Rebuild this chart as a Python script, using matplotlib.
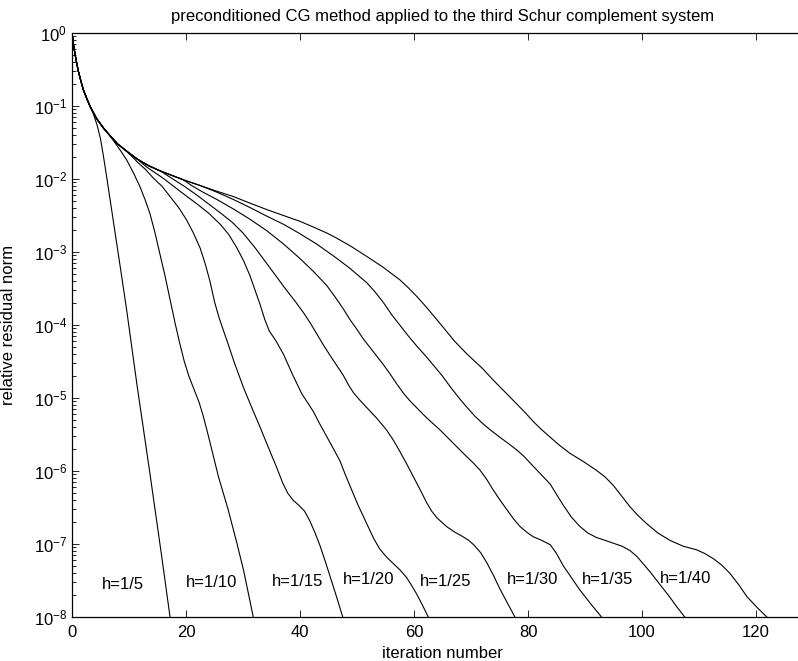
import matplotlib.pyplot as plt
import numpy as np

plt.rcParams['font.family'] = ['Liberation Sans', 'DejaVu Sans']
plt.rcParams['mathtext.fontset'] = 'custom'
plt.rcParams['mathtext.rm'] = 'Liberation Sans'
plt.rcParams['mathtext.it'] = 'Liberation Sans:italic'

# shared start of all residual curves (iteration, log10 residual)
env_it = [0, 0.3, 0.6, 1.1, 1.6, 2.0, 2.6, 3.2, 4.3, 5.5, 6.7, 8.0, 9.6, 11.5, 13.5, 15.5, 17.5, 19.5, 22.5, 25.5, 28.3]
env_lr = [0, -0.18, -0.32, -0.52, -0.67, -0.78, -0.9, -1.01, -1.17, -1.3, -1.41, -1.52, -1.62, -1.73, -1.82, -1.89, -1.95, -2.01, -2.09, -2.17, -2.24]

labels = ["h=1/5", "h=1/10", "h=1/15", "h=1/20", "h=1/25", "h=1/30", "h=1/35", "h=1/40"]
# iteration where each curve leaves the common start
leave_at = [3.2, 6.7, 9.6, 11.5, 15.5, 19.5, 22.5, 28.3]

it_5 = [3.8, 4.4, 5.0, 5.5, 6.1, 7.2, 8.4, 9.6, 11.4, 13.7, 15.7, 17.2]
lr_5 = [-1.12, -1.26, -1.45, -1.68, -1.98, -2.55, -3.17, -3.8, -4.82, -6.05, -7.15, -8.0]

it_10 = [7.5, 8.5, 9.6, 10.8, 11.9, 12.9, 13.7, 14.6, 15.4, 16.3, 17.2, 18.1, 18.9, 19.7, 20.5, 21.4, 22.3,
         23.0, 23.7, 24.5, 25.7, 27.4, 28.9, 30.1, 30.9, 31.8]
lr_10 = [-1.50, -1.61, -1.74, -1.92, -2.10, -2.3, -2.48, -2.75, -3.02, -3.32, -3.65, -3.98, -4.25, -4.5, -4.7, -4.88, -5.06,
         -5.24, -5.45, -5.7, -6.08, -6.53, -6.98, -7.36, -7.66, -8.0]

it_15 = [10.5, 11.5, 12.9, 14.3, 15.8, 17.2, 18.7, 20.1, 21.3, 22.5, 23.4, 24.2, 25.0, 25.8, 26.5, 27.3, 28.5, 30.1,
         31.8, 33.0, 34.2, 35.9, 37.0, 37.9, 38.8, 39.8, 40.8, 41.7, 42.6, 43.5, 44.4, 45.3, 46.4, 47.5]
lr_15 = [-1.69, -1.77, -1.87, -1.99, -2.1, -2.24, -2.39, -2.56, -2.74, -2.95, -3.17, -3.4, -3.68, -3.9, -4.06, -4.24, -4.52, -4.86,
         -5.18, -5.4, -5.63, -5.95, -6.17, -6.31, -6.4, -6.47, -6.55, -6.68, -6.84, -7.02, -7.23, -7.45, -7.72, -8.0]

it_20 = [13.0, 14.5, 16.0, 17.5, 19.5, 21.9, 24.0, 26.0, 27.5, 28.9, 30.1, 31.2, 32.1, 33.0, 33.8, 34.6, 35.8, 37.1,
         38.7, 40.3, 41.3, 42.3, 43.5, 44.7, 45.9, 47.0, 47.9, 48.8, 50.2, 51.7, 52.9, 54.0, 55.2, 56.4, 57.6, 58.7,
         59.6, 60.5, 61.5, 62.5]
lr_20 = [-1.83, -1.91, -1.99, -2.08, -2.2, -2.34, -2.47, -2.62, -2.76, -2.94, -3.12, -3.32, -3.52, -3.72, -3.92, -4.08, -4.22, -4.4,
         -4.68, -4.94, -5.06, -5.18, -5.36, -5.53, -5.7, -5.86, -6.04, -6.21, -6.47, -6.72, -6.92, -7.07, -7.18, -7.27, -7.36, -7.46,
         -7.57, -7.69, -7.84, -8.0]

it_25 = [17.5, 19.7, 21.9, 24.1, 26.3, 28.2, 30.0, 32.0, 34.0, 35.8, 37.5, 39.1, 40.6, 41.7, 42.7, 44.0, 45.3, 46.5,
         47.6, 48.5, 49.4, 50.5, 51.7, 53.5, 55.2, 56.4, 57.5, 58.7, 59.9, 61.1, 62.2, 63.1, 64.0, 65.7, 67.2, 68.6,
         69.6, 70.6, 71.7, 72.8, 74.0, 75.1, 76.4, 77.7]
lr_25 = [-1.99, -2.1, -2.22, -2.35, -2.48, -2.6, -2.74, -2.93, -3.14, -3.33, -3.51, -3.67, -3.83, -3.96, -4.09, -4.26, -4.42, -4.56,
         -4.69, -4.82, -4.93, -5.03, -5.13, -5.28, -5.44, -5.58, -5.73, -5.9, -6.08, -6.26, -6.43, -6.55, -6.64, -6.76, -6.84, -6.9,
         -6.95, -7.02, -7.12, -7.26, -7.44, -7.62, -7.81, -8.0]

it_30 = [21.0, 22.5, 25.4, 28.3, 31.2, 34.2, 37.1, 40.0, 42.4, 44.7, 46.2, 47.6, 48.8, 49.9, 51.1, 52.3, 53.5, 54.6,
         55.8, 57.0, 58.2, 59.3, 60.8, 62.2, 64.6, 66.9, 69.2, 70.4, 71.6, 72.8, 73.9, 75.1, 76.3, 77.5, 78.6, 79.8,
         80.9, 82.4, 83.9, 85.0, 86.2, 87.7, 89.1, 91.0, 92.9]
lr_30 = [-2.09, -2.16, -2.28, -2.41, -2.55, -2.71, -2.89, -3.09, -3.27, -3.46, -3.62, -3.78, -3.93, -4.05, -4.19, -4.31, -4.43, -4.54,
         -4.67, -4.81, -4.94, -5.04, -5.16, -5.27, -5.44, -5.62, -5.80, -5.89, -5.99, -6.12, -6.26, -6.4, -6.53, -6.66, -6.76, -6.84,
         -6.9, -6.95, -7.01, -7.13, -7.3, -7.47, -7.63, -7.82, -8.0]

it_35 = [25.4, 28.3, 31.2, 34.2, 37.1, 40.0, 42.9, 45.8, 48.7, 51.7, 53.2, 54.7, 56.1, 57.5, 59.0, 60.5, 62.0, 63.4,
         64.9, 66.3, 67.8, 69.2, 70.7, 72.2, 73.6, 75.1, 76.5, 78.0, 79.3, 80.5, 82.2, 83.9, 85.0, 86.2, 87.6, 89.1,
         90.5, 92.0, 93.5, 95.0, 96.5, 97.9, 99.1, 100.2, 101.4, 102.6, 103.7, 104.9, 106.2, 107.5]
lr_35 = [-2.18, -2.28, -2.39, -2.51, -2.62, -2.75, -2.89, -3.05, -3.22, -3.42, -3.55, -3.7, -3.86, -4.0, -4.15, -4.29, -4.42, -4.55,
         -4.69, -4.84, -4.99, -5.12, -5.25, -5.36, -5.45, -5.54, -5.62, -5.71, -5.8, -5.9, -6.04, -6.18, -6.32, -6.47, -6.63, -6.76,
         -6.85, -6.91, -6.95, -6.99, -7.03, -7.09, -7.17, -7.27, -7.38, -7.5, -7.61, -7.73, -7.87, -8.0]

it_40 = [31.2, 34.2, 37.1, 40.0, 42.4, 44.7, 46.2, 48.9, 51.7, 54.6, 57.5, 59.0, 60.5, 62.0, 63.4, 65.1, 67.1, 69.2,
         70.7, 72.2, 73.6, 75.1, 76.5, 78.0, 79.5, 80.9, 82.2, 83.5, 85.4, 87.4, 89.7, 92.0, 93.5, 95.0, 96.4, 97.9,
         99.3, 100.8, 102.8, 104.9, 107.2, 109.6, 111.0, 112.5, 114.0, 115.4, 116.9, 118.4, 120.2, 121.9]
lr_40 = [-2.33, -2.42, -2.50, -2.58, -2.66, -2.74, -2.8, -2.92, -3.06, -3.21, -3.38, -3.49, -3.61, -3.74, -3.87, -4.03, -4.22, -4.39,
         -4.5, -4.61, -4.73, -4.85, -4.96, -5.08, -5.2, -5.32, -5.42, -5.51, -5.64, -5.76, -5.87, -5.99, -6.08, -6.2, -6.34, -6.49,
         -6.61, -6.72, -6.85, -6.95, -7.03, -7.08, -7.13, -7.2, -7.29, -7.4, -7.55, -7.72, -7.87, -8.0]

tails_it = [it_5, it_10, it_15, it_20, it_25, it_30, it_35, it_40]
tails_lr = [lr_5, lr_10, lr_15, lr_20, lr_25, lr_30, lr_35, lr_40]

# label anchor positions (iteration, log10 residual)
lab_it = [8.9, 24.5, 39.6, 52.1, 65.6, 80.8, 93.9, 107.7]
lab_lr = [-7.56, -7.53, -7.52, -7.48, -7.52, -7.48, -7.48, -7.47]

fig = plt.figure(figsize=(7.98, 6.61), dpi=100)
# axes run past the right edge like the original (cropped) figure
ax = fig.add_axes([72/798, 44/661, 741/798, 584/661])

for k in range(len(labels)):
    n = sum(1 for v in env_it if v <= leave_at[k])
    x = np.array(env_it[:n] + tails_it[k])
    y = 10.0 ** np.array(env_lr[:n] + tails_lr[k])
    ax.plot(x, y, color='black', linewidth=0.8)
    ax.text(lab_it[k], 10.0 ** lab_lr[k], labels[k], ha='center', va='center', fontsize=12)

ax.set_yscale('log')
ax.set_xlim(0, 130)
ax.set_ylim(1e-8, 1)
ax.set_xticks([0, 20, 40, 60, 80, 100, 120])
ax.tick_params(which='both', direction='in', top=True, right=True, labelsize=12, width=0.6)
ax.tick_params(which='major', length=5)
ax.tick_params(which='minor', length=2.8)
ax.tick_params(axis='x', pad=6)
for s in ax.spines.values():
    s.set_linewidth(0.9)

ax.set_title("preconditioned CG method applied to the third Schur complement system", fontsize=12, pad=9)
ax.set_xlabel("iteration number", fontsize=12, labelpad=4)
ax.set_ylabel("relative residual norm", fontsize=12, labelpad=13)

fig.savefig("out.png", dpi=100)
